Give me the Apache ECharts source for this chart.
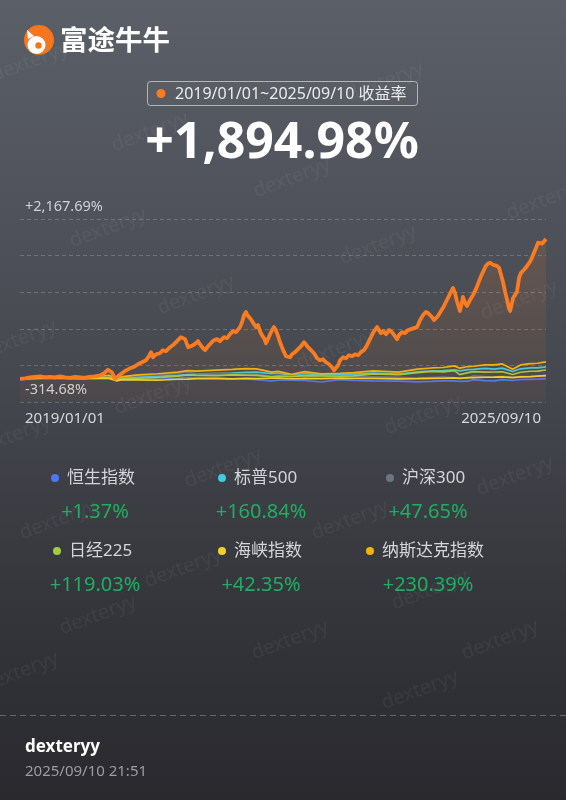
<!DOCTYPE html>
<html><head><meta charset="utf-8">
<script src="https://cdn.jsdelivr.net/npm/echarts@6/dist/echarts.min.js"></script>
<style>html,body{margin:0;padding:0;background:#2a2b30}#c{width:566px;height:800px}</style>
</head><body><div id="c"></div>
<script>
// ---------- DATA ----------
const orangeDates = ['2019-01-01','2019-01-24','2019-02-16','2019-03-12','2019-04-04','2019-04-27','2019-05-20','2019-06-13','2019-07-06','2019-07-29','2019-08-21','2019-09-14','2019-10-07','2019-10-30','2019-11-22','2019-12-15',
'2020-01-08','2020-01-26','2020-02-14','2020-02-23','2020-03-03','2020-03-17','2020-03-31','2020-04-19','2020-05-08','2020-05-26','2020-06-14','2020-07-02','2020-07-21','2020-08-08','2020-08-22','2020-09-01','2020-09-10','2020-09-24','2020-10-12','2020-10-26','2020-11-09','2020-11-28','2020-12-17',
'2021-01-04','2021-01-18','2021-01-27','2021-02-06','2021-02-20','2021-03-01','2021-03-15','2021-03-29','2021-04-07','2021-04-16','2021-04-30','2021-05-10','2021-05-24','2021-06-06','2021-06-20','2021-07-04','2021-07-18','2021-08-06','2021-08-20','2021-09-03','2021-09-17','2021-10-01','2021-10-19','2021-10-29','2021-11-07','2021-11-16','2021-11-25','2021-12-05','2021-12-14','2021-12-23',
'2022-01-02','2022-01-11','2022-01-20','2022-01-29','2022-02-08','2022-02-17','2022-02-26','2022-03-08','2022-03-17','2022-03-26','2022-04-04','2022-04-14','2022-04-23','2022-05-02','2022-05-12','2022-05-21','2022-05-30','2022-06-09','2022-06-18','2022-07-02','2022-07-16','2022-07-30','2022-08-13','2022-08-22','2022-08-31','2022-09-14','2022-09-28','2022-10-12','2022-10-26','2022-11-09','2022-11-23','2022-12-07','2022-12-21','2022-12-30',
'2023-01-08','2023-01-18','2023-01-27','2023-02-10','2023-02-24','2023-03-10','2023-03-24','2023-04-07','2023-04-21','2023-05-04','2023-05-18','2023-06-01','2023-06-15','2023-06-29','2023-07-08','2023-07-18','2023-07-27','2023-08-05','2023-08-15','2023-08-29','2023-09-12','2023-09-25','2023-10-09','2023-10-19','2023-10-28','2023-11-11','2023-11-25','2023-12-09','2023-12-23',
'2024-01-06','2024-01-20','2024-02-03','2024-02-17','2024-03-01','2024-03-11','2024-03-20','2024-03-29','2024-04-08','2024-04-17','2024-04-26','2024-05-10','2024-05-24','2024-06-07','2024-06-21','2024-07-05','2024-07-14','2024-07-23','2024-08-02','2024-08-06','2024-08-16','2024-08-20','2024-08-30','2024-09-08','2024-09-22','2024-10-06','2024-10-20','2024-10-29','2024-11-07','2024-11-17','2024-11-26','2024-12-05','2024-12-14','2024-12-24',
'2025-01-07','2025-01-16','2025-01-25','2025-02-04','2025-02-13','2025-02-22','2025-03-04','2025-03-13','2025-03-22','2025-03-27','2025-04-05','2025-04-10','2025-04-19','2025-04-28','2025-05-08','2025-05-17','2025-05-31','2025-06-14','2025-06-28','2025-07-07','2025-07-16','2025-07-26','2025-08-04','2025-08-13','2025-08-23','2025-09-01','2025-09-10'];
const orangeValues = [0,6,19,26,33,19,26,19,33,19,13,26,19,13,26,33,
47,74,122,129,88,-1,33,74,115,142,163,197,224,251,306,361,292,333,347,388,374,429,470,
524,565,579,538,429,402,456,483,511,470,415,388,442,483,524,538,511,565,551,606,647,633,701,770,865,906,852,824,783,742,
701,729,647,592,551,483,538,606,661,701,661,579,497,429,361,306,320,292,333,361,402,442,497,483,429,388,347,279,251,265,224,197,156,115,
129,183,251,292,279,320,306,333,320,361,388,456,538,620,661,701,674,620,647,606,661,633,579,538,592,633,620,661,674,
688,701,797,865,906,892,879,838,797,770,852,920,988,1070,1152,1233,1165,1056,961,920,1042,1111,1029,988,1070,1138,1220,1288,1356,1424,1479,1533,1561,1574,
1547,1561,1533,1506,1479,1315,1179,1070,961,920,1029,1097,1070,1179,1370,1438,1479,1533,1588,1643,1711,1779,1847,1874,1834,1861,1894.98];

const idxDates = ['2019-01-01','2019-04-01','2019-07-01','2019-10-01','2020-01-02','2020-02-19','2020-03-23','2020-04-15','2020-07-01','2020-10-01','2021-01-04','2021-02-17','2021-04-01','2021-07-01','2021-09-14','2021-11-15','2022-01-04','2022-03-15','2022-04-15','2022-06-16','2022-08-16','2022-10-31','2023-01-27','2023-04-01','2023-07-01','2023-10-27','2024-01-22','2024-03-28','2024-05-20','2024-07-11','2024-08-05','2024-09-13','2024-10-07','2024-12-01','2025-01-13','2025-02-19','2025-04-08','2025-05-15','2025-06-30','2025-08-01','2025-09-10'];
const hsiValues    = [0,14.5,10.3,1.0,9.1,7.0,-16.0,-7.1,-5.6,-9.2,6.3,19.6,9.8,11.4,-1.3,-1.7,-10.0,-28.8,-16.8,-18.4,-23.3,-43.2,-12.2,-21.1,-26.9,-32.7,-42.1,-36.0,-24.0,-29.2,-35.4,-32.8,-10.6,-24.6,-26.9,-11.4,-23.4,-9.5,-6.9,-5.2,1.37];
const spxValues    = [0,14.2,18.1,17.1,29.8,34.9,-10.9,10.9,24.1,34.7,47.4,56.7,60.2,72.1,77.0,86.5,91.0,69.8,75.0,46.1,71.5,54.3,62.2,63.7,77.3,64.0,93.2,109.3,111.5,122.5,106.6,124.1,126.9,140.3,132.5,144.8,98.5,135.7,147.2,148.5,160.84];
const csiValues    = [0,31.9,27.6,26.7,37.9,37.5,17.3,26.6,41.2,52.5,75.1,92.7,67.8,72.4,62.8,62.1,63.5,32.6,34.2,42.5,39.2,16.6,37.5,34.6,27.6,18.6,8.6,17.6,22.6,14.6,11.0,5.0,41.5,29.9,23.9,31.6,21.3,28.6,30.9,34.6,47.65];
const nikkeiValues = [0,7.4,8.6,9.4,15.9,16.9,-15.6,-2.3,10.5,15.8,36.2,51.3,46.8,43.4,53.2,48.8,46.4,26.7,35.3,29.8,44.2,37.8,36.8,40.1,65.8,54.8,82.6,100.7,95.2,110.9,57.2,82.8,96.5,90.9,92.2,95.7,58.4,88.6,102.3,103.8,119.03];
const stiValues    = [0,5.0,9.8,1.7,5.9,4.3,-27.2,-15.3,-15.3,-19.8,-6.1,-3.8,3.3,1.7,-0.3,5.3,2.7,7.6,9.2,1.0,6.6,0.7,10.5,6.3,4.6,0.1,2.3,5.0,7.6,11.8,5.3,15.4,17.3,21.3,22.9,27.1,16.7,26.1,29.1,36.9,42.35];
const nasdaqValues = [0,18.0,21.9,19.2,37.0,48.0,3.4,26.5,53.0,68.4,91.4,110.6,103.2,118.8,126.7,138.9,135.4,89.6,101.2,60.5,97.4,65.6,75.1,84.2,107.8,90.5,131.5,146.9,153.1,175.5,144.2,166.5,170.1,189.7,187.7,202.3,130.1,188.0,207.0,211.2,230.39];

const indexNames   = ['恒生指数','标普500','沪深300','日经225','海峡指数','纳斯达克指数'];
const indexReturns = ['+1.37%','+160.84%','+47.65%','+119.03%','+42.35%','+230.39%'];
const yTickLabels  = ['-314.68%','+2,167.69%'];
const xTickLabels  = ['2019/01/01','2025/09/10'];
const rangeText    = '2019/01/01~2025/09/10 收益率';
const headlineText = '+1,894.98%';
const yMin = -314.68, yMax = 2167.69;
const xMin = '2019-01-01', xMax = '2025-09-10';

// ---------- STYLE ----------
const indexColors = ['#4d78ec','#3fcbe3','#6a7487','#a3cc3c','#f2cf2a','#f4b30c'];
const ORANGE = '#fb7c20';
const FONT = '"Noto Sans","Noto Sans CJK SC",sans-serif';

function toTs(s){const p=s.split('-');return Date.UTC(+p[0],+p[1]-1,+p[2]);}
function zip(d,v){return d.map((x,i)=>[toTs(x),v[i]]);}

const idxSeriesVals = [hsiValues,spxValues,csiValues,nikkeiValues,stiValues,nasdaqValues];
const series = indexNames.map((n,i)=>({
  name:n,type:'line',showSymbol:false,symbol:'none',
  data:zip(idxDates,idxSeriesVals[i]),
  lineStyle:{width:1.7,color:indexColors[i]},itemStyle:{color:indexColors[i]},
  z:2+i
}));
series.push({
  name:'收益率',type:'line',showSymbol:false,symbol:'none',
  data:zip(orangeDates,orangeValues),
  lineStyle:{width:3.8,color:ORANGE,join:'round'},itemStyle:{color:ORANGE},
  areaStyle:{origin:'start',color:new echarts.graphic.LinearGradient(0,0,0,1,[
    {offset:0,color:'rgba(251,124,32,0.20)'},{offset:1,color:'rgba(251,124,32,0.06)'}])},
  z:20
});

const legendPos = [[51,468],[218,468],[386,468],[53,541],[218,541],[366,541]];
const valuePos  = [[95,512],[261,512],[428,512],[95,585],[261,585],[428,585]];
const legends = indexNames.map((n,i)=>({
  data:[n],left:legendPos[i][0],top:legendPos[i][1],icon:'circle',itemWidth:8,itemHeight:8,
  padding:0,selectedMode:false,
  textStyle:{color:'#d3d5d8',fontSize:17,fontFamily:FONT,lineHeight:20,padding:[0,0,0,3]}
}));

const wm = [[150,132],[385,82],[292,178],[545,200],[108,228],[378,245],[196,295],[519,300],[18,340],[335,350],[153,395],[423,415],[12,436],[223,468],[515,476],[58,520],[350,520],[183,568],[430,590],[98,615],[290,640],[500,640],[20,672],[420,690],[30,62]];
const graphics = [];
wm.forEach(p=>graphics.push({type:'text',x:p[0],y:p[1],rotation:0.36,z:0,silent:true,
  style:{text:'dexteryy',fill:'rgba(255,255,255,0.05)',font:'20px '+FONT,align:'center',verticalAlign:'middle'}}));
// logo
graphics.push({type:'circle',shape:{cx:39,cy:40,r:15},style:{fill:'#f5761c'},z:10});
graphics.push({type:'circle',shape:{cx:36.5,cy:45,r:9},style:{fill:'#ffffff'},z:11});
graphics.push({type:'polygon',shape:{points:[[27,30],[34,36],[28,39]]},style:{fill:'#ffffff'},z:11});
graphics.push({type:'circle',shape:{cx:38.5,cy:45.5,r:3.2},style:{fill:'#f5761c'},z:12});
graphics.push({type:'text',x:60,y:40,z:10,style:{text:'富途牛牛',fill:'#ffffff',font:'bold 27.5px "Noto Sans CJK SC",sans-serif',verticalAlign:'middle'}});
// range pill
graphics.push({type:'rect',shape:{x:147.5,y:81.5,width:270,height:24,r:3},style:{fill:'rgba(255,255,255,0.02)',stroke:'rgba(255,255,255,0.55)',lineWidth:1},z:10});
graphics.push({type:'circle',shape:{cx:161,cy:93.5,r:4.5},style:{fill:ORANGE},z:11});
graphics.push({type:'text',x:175,y:94,z:11,style:{text:rangeText,fill:'#eaebec',font:'16px '+FONT,verticalAlign:'middle'}});
// headline
graphics.push({type:'text',x:282,y:144,z:10,style:{text:headlineText,fill:'#ffffff',font:'bold 50px '+FONT,align:'center',verticalAlign:'middle'}});
// returns
indexReturns.forEach((t,i)=>graphics.push({type:'text',x:valuePos[i][0],y:valuePos[i][1],z:10,
  style:{text:t,fill:'#1fae63',font:'20px '+FONT,align:'center',verticalAlign:'middle'}}));
// footer
graphics.push({type:'line',shape:{x1:0,y1:715.5,x2:566,y2:715.5},style:{stroke:'rgba(255,255,255,0.28)',lineWidth:1,lineDash:[6,4]},z:10});
graphics.push({type:'text',x:25,y:747,z:10,style:{text:'dexteryy',fill:'#ffffff',font:'bold 17px '+FONT,verticalAlign:'middle'}});
graphics.push({type:'text',x:25,y:772,z:10,style:{text:'2025/09/10 21:51',fill:'#9b9da1',font:'15px '+FONT,verticalAlign:'middle'}});

const chart = echarts.init(document.getElementById('c'),null,{renderer:'canvas'});
chart.setOption({
  animation:false,
  backgroundColor:new echarts.graphic.LinearGradient(0,0,0,1,[
    {offset:0,color:'#5b5f67'},{offset:0.45,color:'#464950'},{offset:0.75,color:'#34363b'},{offset:1,color:'#29292e'}]),
  grid:{left:20,right:20,top:219,bottom:398,containLabel:false},
  xAxis:{type:'value',min:toTs(xMin),max:toTs(xMax),
    axisLine:{show:false},axisTick:{show:false},splitLine:{show:false},
    axisLabel:{customValues:[toTs(xMin),toTs(xMax)],alignMinLabel:'left',alignMaxLabel:'right',
      formatter:(v)=>(v===toTs(xMin)?xTickLabels[0]:xTickLabels[1]),color:'#d6d8da',fontSize:15,fontFamily:FONT,margin:9,padding:[0,5,0,5]}},
  yAxis:{type:'value',min:yMin,max:yMax,interval:(yMax-yMin)/5,
    axisLine:{show:false},axisTick:{show:false},
    splitLine:{show:true,lineStyle:{color:'rgba(255,255,255,0.2)',type:[4,3],width:1}},
    axisLabel:{inside:true,margin:5,verticalAlign:'bottom',lineHeight:15,padding:[0,0,5,0],
      color:'#cfd1d4',fontSize:14.5,fontFamily:FONT,
      formatter:(v,i)=>i===0?yTickLabels[0]:(i===5?yTickLabels[1]:'')}},
  legend:legends,
  graphic:graphics,
  series:series
});
</script></body></html>
